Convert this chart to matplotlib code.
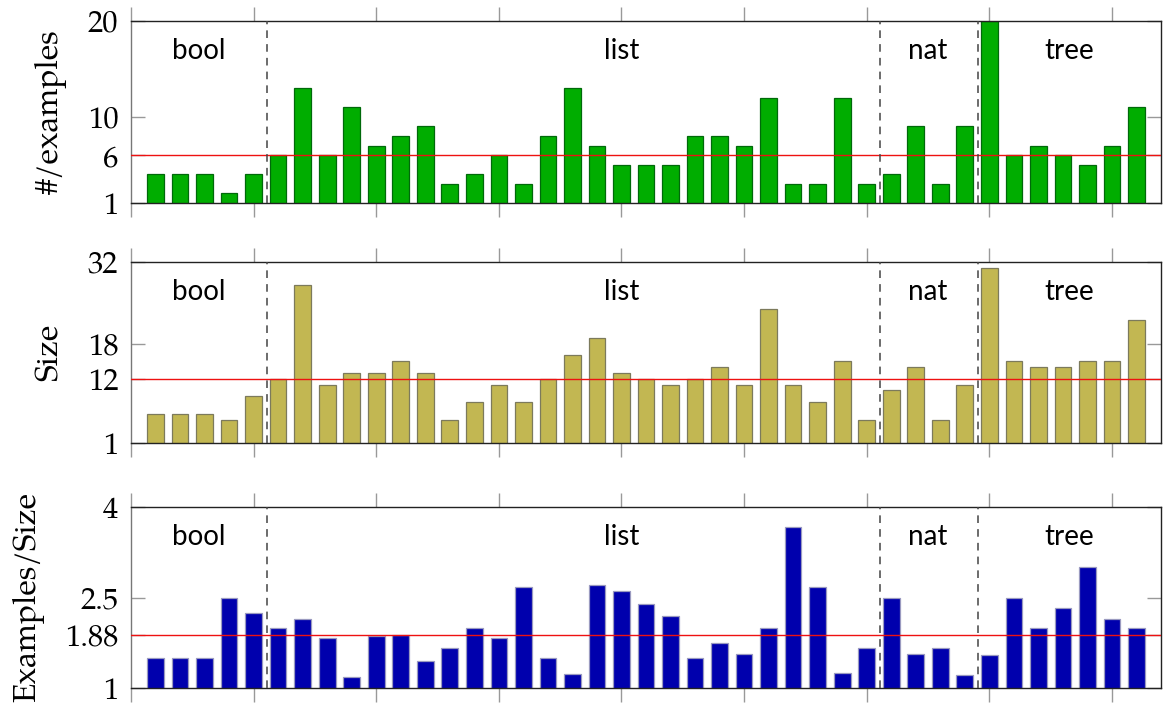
import numpy as np
import matplotlib
matplotlib.use('Agg')
import matplotlib.pyplot as plt

# values, one bar per benchmark
groups = ['bool', 'list', 'nat', 'tree']
group_sizes = [5, 25, 4, 7]

examples = [4, 4, 4, 2, 4,
            6, 13, 6, 11, 7, 8, 9, 3, 4, 6, 3, 8, 13, 7, 5, 5, 5, 8, 8, 7, 12, 3, 3, 12, 3,
            4, 9, 3, 9,
            20, 6, 7, 6, 5, 7, 11]
size = [6, 6, 6, 5, 9,
        12, 28, 11, 13, 13, 15, 13, 5, 8, 11, 8, 12, 16, 19, 13, 12, 11, 12, 14, 11, 24, 11, 8, 15, 5,
        10, 14, 5, 11,
        31, 15, 14, 14, 15, 15, 22]
ratio = [1.5, 1.5, 1.5, 2.5, 2.25,
         2.0, 2.15, 1.83, 1.18, 1.86, 1.88, 1.44, 1.67, 2.0, 1.83, 2.67, 1.5, 1.23, 2.71, 2.6,
         2.4, 2.2, 1.5, 1.75, 1.57, 2.0, 3.67, 2.67, 1.25, 1.67,
         2.5, 1.56, 1.67, 1.22,
         1.55, 2.5, 2.0, 2.33, 3.0, 2.14, 2.0]

medians = [6, 12, 1.88]
yticks = [[1, 6, 10, 20], [1, 12, 18, 32], [1, 1.88, 2.5, 4]]
ytick_labels = [['1', '6', '10', '20'], ['1', '12', '18', '32'], ['1', '1.88', '2.5', '4']]
ylims = [(1, 20), (1, 32), (1, 4)]
ylabels = ['#/examples', 'Size', 'Examples/Size']
fills = ['#00ad00', '#c2b752', '#0000ad']
edges = ['#00690a', '#7c7a5c', '#9a9ac0']

serif = ['TeX Gyre Pagella', 'Liberation Serif', 'DejaVu Serif']
sans = ['Lato', 'DejaVu Sans']

fig = plt.figure(figsize=[11.66, 7.2], dpi=100)
W, H = 1166, 720
panels = [(21, 203), (262, 443), (507, 688)]

x = np.arange(1, len(examples) + 1)
bounds = np.cumsum(group_sizes)[:-1] + 0.5
label_x = [2.75, 20, 32.5, 38.25]

for i, data in enumerate([examples, size, ratio]):
    top, bot = panels[i]
    ax = fig.add_axes([131 / W, 1 - bot / H, (1161 - 131) / W, (bot - top) / H])
    ax.bar(x, data, width=0.68, bottom=0, color=fills[i], edgecolor=edges[i], linewidth=0.9, zorder=2)
    ax.axhline(medians[i], color='#ee1111', linewidth=1.0, zorder=3)
    for b in bounds:
        ax.axvline(b + 0.05, color='#444444', linestyle=(0, (5, 4)), linewidth=1.1, zorder=4)
    ax.set_xlim(0, 42)
    ax.set_ylim(*ylims[i])
    ax.set_xticks(np.arange(0, 41, 5))
    ax.set_xticklabels([])
    ax.tick_params(axis='x', which='both', direction='out', top=True, bottom=True,
                   length=10, color='#999999', width=1.0)
    ax.set_yticks(yticks[i])
    ax.set_yticklabels(ytick_labels[i], fontfamily=serif, fontsize=22)
    ax.tick_params(axis='y', which='both', direction='in', left=True, right=True,
                   length=10, color='#999999', width=1.0, pad=9)
    ax.set_ylabel(ylabels[i], fontfamily=serif, fontsize=23, labelpad=15)
    for s in ax.spines.values():
        s.set_color('#222222')
        s.set_linewidth(1.0)
    ax.spines['left'].set_color('#777777')
    for g, lx in zip(groups, label_x):
        ax.text(lx, ylims[i][1] - (ylims[i][1] - ylims[i][0]) * 0.165, g,
                ha='center', va='center', fontfamily=sans, fontsize=20, zorder=5)

fig.savefig('out.png', dpi=100)
